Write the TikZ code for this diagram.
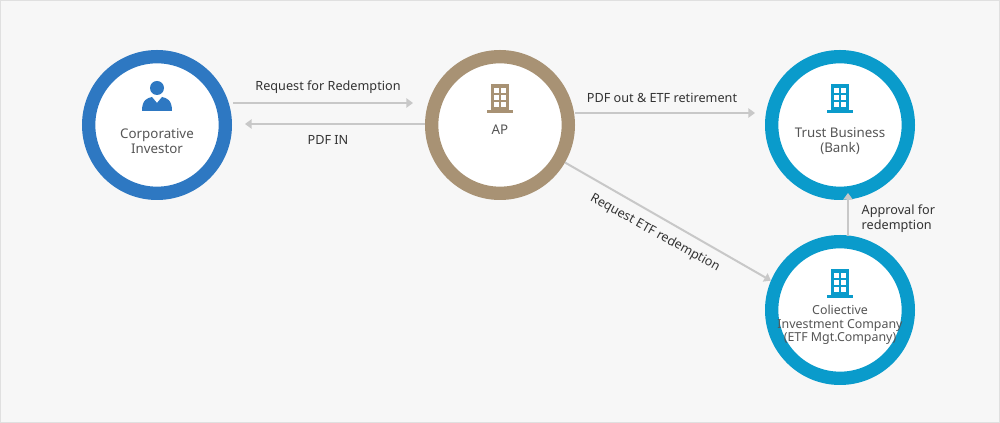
\documentclass[tikz,border=0pt]{standalone}
\usepackage{fontspec}
\setmainfont{Noto Sans}
\usetikzlibrary{arrows.meta}
\definecolor{cblue}{HTML}{2E78C2}
\definecolor{ctan}{HTML}{A89274}
\definecolor{ccyan}{HTML}{0A9BCB}
\definecolor{ctext}{HTML}{555555}
\definecolor{cline}{HTML}{C8C8C8}
\begin{document}
\begin{tikzpicture}[x=0.75pt,y=-0.75pt,
  ring/.style={circle,draw=#1,line width=10pt,fill=white,minimum size=102.5pt,inner sep=0pt},
  lbl/.style={font=\fontsize{10}{11.5}\selectfont,text=ctext,align=center},
  elbl/.style={font=\fontsize{9.5}{11}\selectfont,text=black!80,align=left},
  conn/.style={draw=cline,line width=1.5pt,-{Triangle[length=5pt,width=7pt]}}]
\useasboundingbox (0,0) rectangle (1000,423);
\fill[black!3] (0,0) rectangle (1000,423);
\draw[black!12] (0.5,0.5) rectangle (999.5,422.5);
\newcommand\bldg[2]{%
  \fill[#2] (#1) ++(-9,-14) rectangle ++(18,26);
  \fill[#2] (#1) ++(-13,12) rectangle ++(26,3);
  \foreach \i in {0,1} \foreach \j in {0,1,2}
    \fill[white] (#1) ++(-6+\i*7,-10+\j*7) rectangle ++(5,5);}
\node[ring=cblue] (ci) at (157,125) {};
\node[ring=ctan] (ap) at (500,125) {};
\node[ring=ccyan] (tb) at (840,125) {};
\node[ring=ccyan] (cc) at (840,310) {};
% icons
\fill[cblue] (157,88) circle (7);
\fill[cblue] (142,111) .. controls (142,100) and (147,98) .. (152,97) -- (157,103) -- (162,97) .. controls (167,98) and (172,100) .. (172,111) -- cycle;
\coordinate (i1) at (500,98); \bldg{i1}{ctan}
\coordinate (i2) at (840,98); \bldg{i2}{ccyan}
\coordinate (i3) at (840,283); \bldg{i3}{ccyan}
\node[lbl] (t1) at (157,141) {Corporative\\Investor};
\node[lbl] (t2) at (500,130) {AP};
\node[lbl] (t3) at (840,141) {Trust Business\\(Bank)};
\node[lbl,font=\fontsize{9.3}{10.3}\selectfont] (t4) at (840,325) {Coliective\\Investment Company\\(ETF Mgt.Company)};
% connectors
\draw[conn] (233,103) -- (413,103) coordinate (e1);
\draw[conn] (ap.west |- 0,124) -- (245,124) coordinate (e2);
\draw[conn] (ap.east |- 0,113) -- (755,113) coordinate (e3);
\draw[conn] (ap.-30) -- (cc.157);
\draw[conn] (848,236) coordinate (s4) -- (848,193) coordinate (e4);
\node[elbl] (l1) at (328,87) {Request for Redemption};
\node[elbl] (l2) at (328,140) {PDF IN};
\node[elbl] (l3) at (662,98) {PDF out \& ETF retirement};
\node[elbl,rotate=-29] (l4) at (655,233) {Request ETF redemption};
\node[elbl,anchor=west] (l5) at (857,219) {Approval for\\redemption};
\end{tikzpicture}
\end{document}
